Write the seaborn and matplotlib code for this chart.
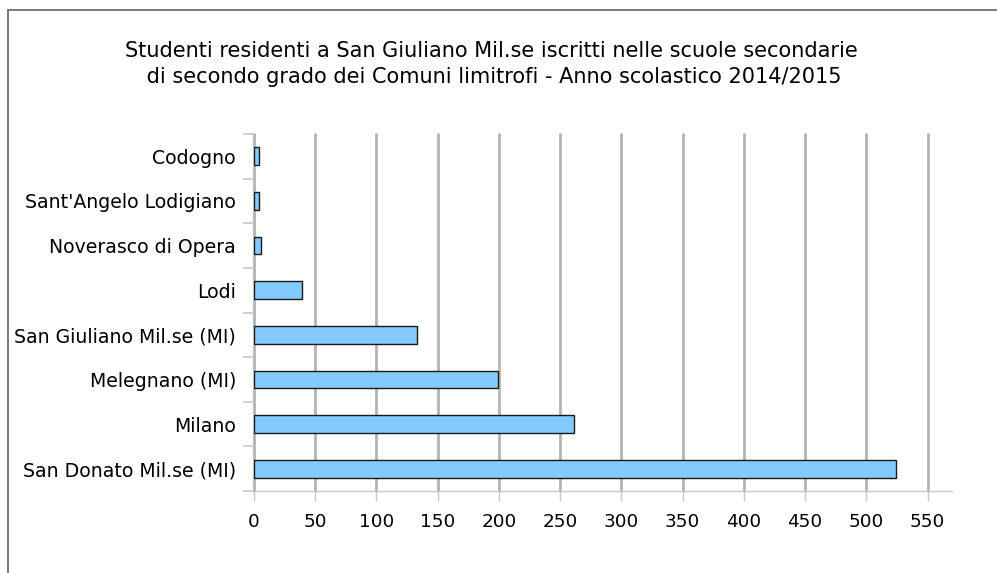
import numpy as np
import pandas as pd
import matplotlib
matplotlib.use('Agg')
import matplotlib.pyplot as plt
from matplotlib.lines import Line2D
import seaborn as sns

comuni = ['Codogno', "Sant'Angelo Lodigiano", 'Noverasco di Opera', 'Lodi',
          'San Giuliano Mil.se (MI)', 'Melegnano (MI)', 'Milano',
          'San Donato Mil.se (MI)']
studenti = [4, 4, 6, 39, 133, 199, 261, 524]
xticks = list(range(0, 551, 50))

df = pd.DataFrame({'comune': comuni, 'studenti': studenti})

sns.set_style('white')
plt.rcParams['font.family'] = ['DejaVu Sans']
plt.rcParams['text.color'] = 'black'
plt.rcParams['xtick.labelcolor'] = 'black'
plt.rcParams['ytick.labelcolor'] = 'black'

fig = plt.figure(figsize=(9.97, 5.73), dpi=100)
ax = fig.add_axes([254 / 997, 1 - 491 / 573, 698 / 997, 357 / 573])

sns.barplot(data=df, x='studenti', y='comune', orient='h', order=comuni,
            color='#83caff', saturation=1, width=0.4,
            edgecolor='#1a1a1a', linewidth=1.0, ax=ax, zorder=3)

ax.set_xlim(0, 570)
ax.set_ylim(7.5, -0.5)
ax.set_xticks(xticks)
ax.set_xticklabels([str(t) for t in xticks], fontsize=13.2)
ax.set_yticks(np.arange(-0.5, 8, 1), minor=True)
ax.tick_params(axis='y', which='major', left=False, length=0, pad=13, labelsize=13.6)
ax.tick_params(axis='y', which='minor', left=True, length=8, width=1.2, color='#c8c8c8')
ax.tick_params(axis='x', bottom=True, length=7, width=1, color='#c8c8c8', pad=9)
ax.xaxis.grid(True, color='#b3b3b3', linewidth=2, zorder=0)
for gl in ax.get_xgridlines():
    gl.set_clip_on(False)
ax.yaxis.grid(False)
ax.set_axisbelow(True)
for s in ['top', 'right', 'left']:
    ax.spines[s].set_visible(False)
ax.spines['bottom'].set_color('#c8c8c8')
ax.spines['bottom'].set_linewidth(1)
ax.set_xlabel('')
ax.set_ylabel('')

fig.text(491 / 997, 1 - 64 / 573,
         'Studenti residenti a San Giuliano Mil.se iscritti nelle scuole secondarie\n'
         ' di secondo grado dei Comuni limitrofi - Anno scolastico 2014/2015',
         ha='center', va='center', fontsize=15, linespacing=1.42)

# cornice del grafico
fig.add_artist(Line2D([8 / 997, 1], [1 - 10 / 573, 1 - 10 / 573], color='#6e6e6e', lw=1.3))
fig.add_artist(Line2D([8 / 997, 8 / 997], [0, 1 - 10 / 573], color='#6e6e6e', lw=1.3))

fig.savefig('out.png', dpi=100)
